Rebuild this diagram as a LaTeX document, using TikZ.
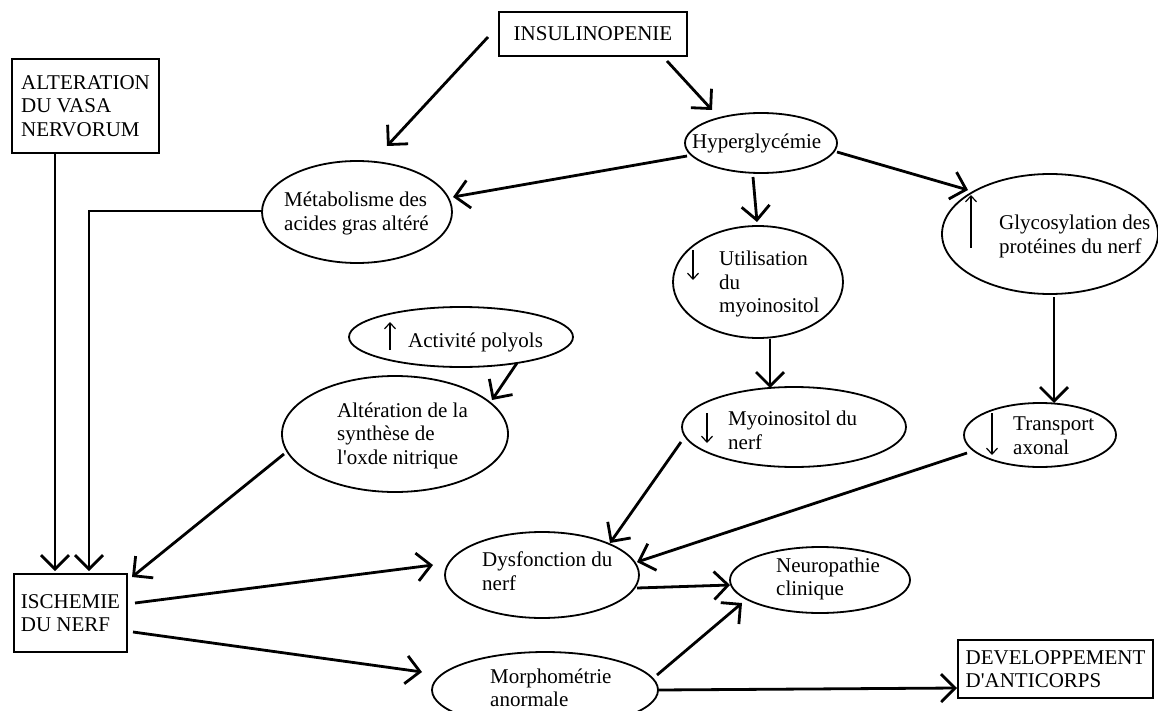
\documentclass[tikz,border=0pt]{standalone}
\usepackage{fontspec}
\setmainfont{Liberation Serif}[Ligatures=TeXOff]
\usetikzlibrary{arrows.meta,shapes.geometric}

\begin{document}
\begin{tikzpicture}[x=1pt,y=-1pt,
  every node/.style={font=\fontsize{21}{23.5}\selectfont},
  box/.style={draw, line width=2.2pt, inner sep=0pt, align=left},
  ell/.style={draw, ellipse, line width=1.8pt, inner sep=0pt},
  txt/.style={align=left, inner sep=0pt, anchor=west},
  arr/.style={line width=2.8pt, -{Straight Barb[length=14pt,width=28pt]}},
  updown/.style={line width=1.2pt, -{Straight Barb[length=6pt,width=11pt]}}
]
\fill[white] (0,0) rectangle (1158,711);
\useasboundingbox (0,0) rectangle (1158,711);

% boxed causes and outcome
\node[box, minimum width=188pt, minimum height=44pt] (ins) at (593,34) {INSULINOPENIE};
\node[box, minimum width=147pt, minimum height=94pt] (alt) at (85.5,106) {ALTERATION\\DU VASA\\NERVORUM};
\node[box, minimum width=113pt, minimum height=78pt] (isch) at (70.5,613) {ISCHEMIE\\DU NERF};
\node[box, minimum width=195pt, minimum height=58pt] (dev) at (1055.5,669) {DEVELOPPEMENT\\D'ANTICORPS};

% ellipses
\node[ell, minimum width=152pt, minimum height=60pt]  (hyp)    at (761,143) {};
\node[ell, minimum width=190pt, minimum height=102pt] (meta)   at (357,212) {};
\node[ell, minimum width=170pt, minimum height=112pt] (util)   at (758,282) {};
\node[ell, minimum width=224pt, minimum height=80pt]  (myo)    at (794,427) {};
\node[ell, minimum width=216pt, minimum height=120pt] (glyc)   at (1050,234) {};
\node[ell, minimum width=152pt, minimum height=64pt]  (trans)  at (1040,435) {};
\node[ell, minimum width=224pt, minimum height=60pt]  (poly)   at (461,337) {};
\node[ell, minimum width=226pt, minimum height=116pt] (no)     at (395,434) {};
\node[ell, minimum width=194pt, minimum height=86pt]  (dys)    at (542,575) {};
\node[ell, minimum width=180pt, minimum height=66pt]  (neuro)  at (820,580) {};
\node[ell, minimum width=226pt, minimum height=76pt]  (morph)  at (545,690) {};

% ellipse texts
\node[txt] (hyp-t)   at (692,143)   {Hyperglycémie};
\node[txt] (meta-t)  at (284,213.5) {Métabolisme des\\acides gras altéré};
\node[txt] (util-t)  at (719,284)   {Utilisation\\du\\myoinositol};
\node[txt] (myo-t)   at (728,430.5) {Myoinositol du\\nerf};
\node[txt] (glyc-t)  at (999,236.5) {Glycosylation des\\protéines du nerf};
\node[txt] (trans-t) at (1013,435.5){Transport\\axonal};
\node[txt] (poly-t)  at (408,342)   {Activité polyols};
\node[txt] (no-t)    at (337,435.5) {Altération de la\\synthèse de\\l'oxde nitrique};
\node[txt] (dys-t)   at (482,571)   {Dysfonction du\\nerf};
\node[txt] (neuro-t) at (776,579)   {Neuropathie\\clinique};
\node[txt] (morph-t) at (490,688)   {Morphométrie\\anormale};

% increase / decrease marks
\draw[updown] ([shift={(-65,-32)}]util.center)  -- ([shift={(-65,-2)}]util.center);
\draw[updown] ([shift={(-87,-14)}]myo.center)   -- ([shift={(-87,16)}]myo.center);
\draw[updown] ([shift={(-79,14)}]glyc.center)   -- ([shift={(-79,-39)}]glyc.center);
\draw[updown] ([shift={(-48,-22)}]trans.center) -- ([shift={(-48,20)}]trans.center);
\draw[updown] ([shift={(-71,13)}]poly.center)   -- ([shift={(-71,-15)}]poly.center);

% connectors
\draw[arr] ([shift={(-105,3)}]ins.center)  -- ([shift={(30,-66)}]meta.center);
\draw[arr] ([shift={(74,27)}]ins.center)   -- ([shift={(-49,-33)}]hyp.center);
\draw[arr] ([shift={(-74,13)}]hyp.center)  -- ([shift={(96,-15)}]meta.center);
\draw[arr] ([shift={(-8,34)}]hyp.center)   -- ([shift={(-1,-60)}]util.center);
\draw[arr] ([shift={(76,9)}]hyp.center)    -- ([shift={(-82,-44)}]glyc.center);
\draw[arr] ([shift={(4,63)}]glyc.center)   -- ([shift={(14,-32)}]trans.center);
\draw[arr] ([shift={(12,57)}]util.center)  -- ([shift={(-24,-39)}]myo.center);
\draw[arr] ([shift={(56,26)}]poly.center)  -- ([shift={(97,-34)}]no.center);
\draw[arr] ([shift={(-111,20)}]no.center)  -- ([shift={(61.5,-36)}]isch.center);
\draw[arr] ([shift={(-30.5,47)}]alt.center) -- ([shift={(-15.5,-42)}]isch.center);
\draw[arr] ([shift={(-95,-1)}]meta.center) -| ([shift={(18.5,-42)}]isch.center);
\draw[arr] ([shift={(64.5,-10)}]isch.center) -- ([shift={(-109,-10)}]dys.center);
\draw[arr] ([shift={(62.5,19)}]isch.center)  -- ([shift={(-123,-18)}]morph.center);
\draw[arr] ([shift={(-113,15)}]myo.center)   -- ([shift={(68,-32)}]dys.center);
\draw[arr] ([shift={(-73,18)}]trans.center)  -- ([shift={(95,-13)}]dys.center);
\draw[arr] ([shift={(95,13)}]dys.center)     -- ([shift={(-90,5)}]neuro.center);
\draw[arr] ([shift={(112,-15)}]morph.center) -- ([shift={(-78,23)}]neuro.center);
\draw[arr] ([shift={(113,0)}]morph.center)   -- ([shift={(-98.5,19)}]dev.center);
\end{tikzpicture}
\end{document}
